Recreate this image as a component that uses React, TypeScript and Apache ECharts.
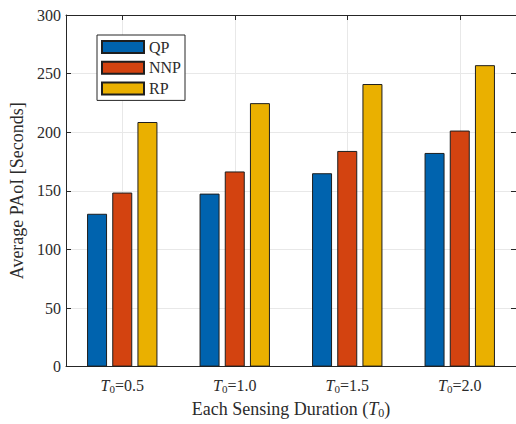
import React, { useEffect, useRef } from 'react';
import * as echarts from 'echarts';

const categories = ['0.5', '1.0', '1.5', '2.0'];
const categoryPositions = [1, 2, 3, 4];
const seriesNames = ['QP', 'NNP', 'RP'];
const qpValues = [130.4, 147.6, 165.0, 182.3];
const nnpValues = [148.5, 166.5, 184.0, 201.4];
const rpValues = [208.7, 224.8, 241.1, 257.2];
const seriesColors = ['#0063ae', '#d34310', '#eab000'];

const FONT = 'Liberation Serif';
const TEXT = '#2b2b2b';
const AXIS = '#262626';
const GRIDC = '#e8e8e8';

export default function App() {
  const ref = useRef<HTMLDivElement>(null);
  useEffect(() => {
    if (!ref.current) return;
    const chart = echarts.init(ref.current, undefined, { renderer: 'svg' });
    const values = [qpValues, nnpValues, rpValues];
    const rich = {
      i: { fontFamily: FONT, fontStyle: 'italic', fontSize: 16, color: TEXT },
      s: { fontFamily: FONT, fontSize: 11, color: TEXT, padding: [8, 0, 0, 0] },
      n: { fontFamily: FONT, fontSize: 16, color: TEXT },
      ti: { fontFamily: FONT, fontStyle: 'italic', fontSize: 18, color: TEXT },
      ts: { fontFamily: FONT, fontSize: 12, color: TEXT, padding: [9, 0, 0, 0] },
      tn: { fontFamily: FONT, fontSize: 18, color: TEXT },
    };
    const axisLine = { show: true, onZero: false, lineStyle: { color: AXIS, width: 1 } };
    const option: any = {
      animation: false,
      backgroundColor: '#ffffff',
      textStyle: { fontFamily: FONT },
      grid: { left: 66, right: -3, top: 15, bottom: 54, containLabel: false },
      legend: {
        orient: 'vertical',
        left: 97,
        top: 35,
        data: seriesNames,
        icon: 'rect',
        itemWidth: 42,
        itemHeight: 12,
        itemGap: 4.7,
        padding: [4, 4, 4, 4],
        borderColor: AXIS,
        borderWidth: 1,
        backgroundColor: '#ffffff',
        textStyle: { fontFamily: FONT, fontSize: 16, color: TEXT, lineHeight: 12 },
      },
      xAxis: [
        {
          type: 'value',
          min: 0.5,
          max: 4.5,
          position: 'bottom',
          axisLine,
          axisTick: { show: true, inside: true, length: 5, customValues: categoryPositions, lineStyle: { color: AXIS } },
          axisLabel: {
            customValues: categoryPositions,
            margin: 9,
            fontFamily: FONT,
            formatter: (v: number) => {
              const idx = categoryPositions.indexOf(v);
              return idx < 0 ? '' : `{i|T}{s|0}{n|=${categories[idx]}}`;
            },
            rich,
          },
          splitLine: { show: true, lineStyle: { color: GRIDC, width: 1 } },
          name: '{tn|Each Sensing Duration (}{ti|T}{ts|0}{tn|)}',
          nameLocation: 'middle',
          nameGap: 30,
          nameTextStyle: { fontFamily: FONT, rich },
        },
        {
          type: 'value',
          min: 0.5,
          max: 4.5,
          position: 'top',
          axisLine,
          axisTick: { show: true, inside: true, length: 5, customValues: categoryPositions, lineStyle: { color: AXIS } },
          axisLabel: { show: false },
          splitLine: { show: false },
        },
      ],
      yAxis: [
        {
          type: 'value',
          min: 0,
          max: 300,
          interval: 50,
          position: 'left',
          axisLine,
          axisTick: { show: true, inside: true, length: 5, lineStyle: { color: AXIS } },
          axisLabel: { fontFamily: FONT, fontSize: 16, color: TEXT, margin: 5 },
          splitLine: { show: true, lineStyle: { color: GRIDC, width: 1 } },
          name: 'Average PAoI [Seconds]',
          nameLocation: 'middle',
          nameGap: 36,
          nameTextStyle: { fontFamily: FONT, fontSize: 18, color: TEXT },
        },
        {
          type: 'value',
          min: 0,
          max: 300,
          interval: 50,
          position: 'right',
          axisLine,
          axisTick: { show: true, inside: true, length: 5, lineStyle: { color: AXIS } },
          axisLabel: { show: false },
          splitLine: { show: false },
        },
      ],
      series: seriesNames.map((name, k) => ({
        name,
        type: 'bar',
        xAxisIndex: 0,
        yAxisIndex: 0,
        barWidth: 20,
        barGap: '26%',
        data: categoryPositions.map((p, i) => [p, values[k][i]]),
        itemStyle: { color: seriesColors[k], borderColor: '#1e1e1e', borderWidth: 1 },
      })),
    };
    chart.setOption(option);
    return () => chart.dispose();
  }, []);
  return <div ref={ref} style={{ position: 'fixed', left: 0, top: 0, width: 516, height: 424 }} />;
}
